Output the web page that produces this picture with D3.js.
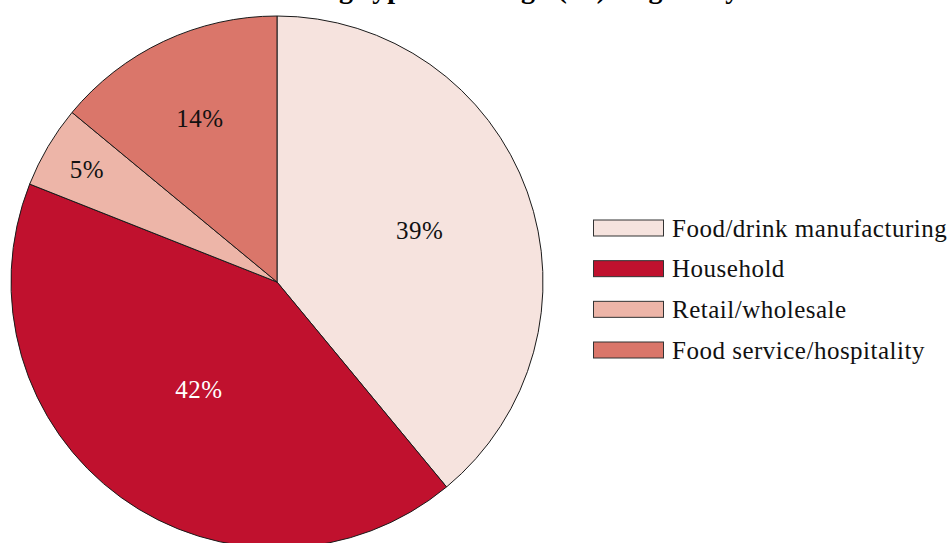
<!DOCTYPE html>
<html>
<head>
<meta charset="utf-8">
<script src="https://cdn.jsdelivr.net/npm/d3@7"></script>
<style>
  html, body { margin: 0; padding: 0; background: #fff; }
  svg { display: block; font-family: 'Liberation Serif', 'Times New Roman', serif; }
</style>
</head>
<body>
<div id="chart"></div>
<script>
const categories = ['Food/drink manufacturing', 'Household', 'Retail/wholesale', 'Food service/hospitality']
const shares = [39, 42, 5, 14]
const labels = ['39%', '42%', '5%', '14%']
const colors = ['#F6E3DE', '#C0112E', '#EDB5A8', '#DA766A']
const labelColors = ['#111', '#fff', '#111', '#111']
const titleText = 'Food waste arising types: tonnage (%) in given year'

// layout
const width = 950
const height = 543
const cx = 277
const cy = 282
const radius = 266
// label distance from centre as a fraction of the radius, per slice
const labelFrac = [0.57, 0.50, 0.83, 0.68]

const svg = d3.select('#chart')
  .append('svg')
  .attr('width', width)
  .attr('height', height)

// title sits mostly above the visible area, only its descenders show
svg.append('text')
  .attr('x', 112)
  .attr('y', -2)
  .attr('text-anchor', 'start')
  .style('font-size', '28px')
  .style('font-weight', 'bold')
  .style('letter-spacing', '1px')
  .text(titleText)

const data = categories.map((c, i) => ({name: c, value: shares[i], label: labels[i], i}))

const pie = d3.pie().sort(null).value(d => d.value)
const arc = d3.arc().innerRadius(0).outerRadius(radius)
const arcs = pie(data)

const g = svg.append('g')
  .attr('transform', `translate(${[cx, cy]})`)

g.selectAll('path.slice')
  .data(arcs)
  .enter()
  .append('path')
  .attr('class', 'slice')
  .attr('d', arc)
  .attr('fill', d => colors[d.data.i])
  .attr('stroke', '#1a1a1a')
  .attr('stroke-width', 1)

g.selectAll('text.lbl')
  .data(arcs)
  .enter()
  .append('text')
  .attr('class', 'lbl')
  .attr('transform', d => {
    const r = radius * labelFrac[d.data.i]
    const a = (d.startAngle + d.endAngle) / 2
    return `translate(${[r * Math.sin(a), -r * Math.cos(a)]})`
  })
  .attr('text-anchor', 'middle')
  .attr('dy', '0.35em')
  .style('font-size', '25px')
  .style('letter-spacing', '0.5px')
  .attr('fill', d => labelColors[d.data.i])
  .text(d => d.data.label)

// legend
const legendY = d3.scalePoint()
  .domain(categories)
  .range([228, 350])

const legend = svg.append('g').attr('class', 'legend')

const item = legend.selectAll('g.item')
  .data(data)
  .enter()
  .append('g')
  .attr('class', 'item')
  .attr('transform', d => `translate(${[593, legendY(d.name)]})`)

item.append('rect')
  .attr('x', 0.5)
  .attr('y', -8)
  .attr('width', 70)
  .attr('height', 16)
  .attr('fill', d => colors[d.i])
  .attr('stroke', '#333')
  .attr('stroke-width', 1)

item.append('text')
  .attr('x', 79)
  .attr('dy', '0.35em')
  .style('font-size', '25px')
  .style('letter-spacing', '0.5px')
  .attr('fill', '#111')
  .text(d => d.name)
</script>
</body>
</html>
